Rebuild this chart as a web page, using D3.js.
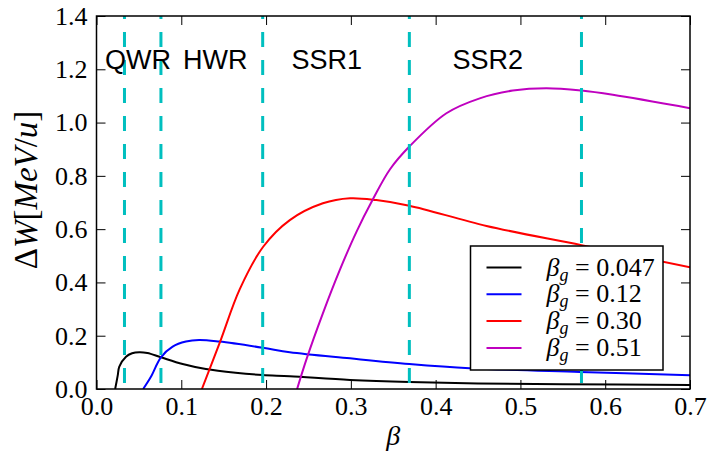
<!DOCTYPE html>
<html>
<head>
<meta charset="utf-8">
<script src="https://cdn.jsdelivr.net/npm/d3@7"></script>
<style>
  body { margin: 0; background: #fff; }
  svg { display: block; }
</style>
</head>
<body>
<svg id="chart"></svg>
<script>
// beta_g = 0.047 (QWR)
var beta047 = [0.022, 0.025, 0.0269, 0.0348, 0.042, 0.0505, 0.06, 0.076, 0.1016, 0.129, 0.164, 0.196, 0.228, 0.299, 0.369, 0.45, 0.55, 0.7];
var dw047   = [0, 0.05, 0.084, 0.121, 0.134, 0.138, 0.135, 0.119, 0.094, 0.075, 0.061, 0.0525, 0.048, 0.034, 0.026, 0.021, 0.018, 0.015];
// beta_g = 0.12 (HWR)
var beta012 = [0.055, 0.0642, 0.076, 0.0898, 0.1055, 0.121, 0.145, 0.196, 0.228, 0.299, 0.369, 0.44, 0.57, 0.7];
var dw012   = [0, 0.046, 0.119, 0.159, 0.178, 0.184, 0.178, 0.155, 0.138, 0.115, 0.094, 0.078, 0.064, 0.052];
// beta_g = 0.30 (SSR1)
var beta030 = [0.1243, 0.1455, 0.169, 0.1966, 0.228, 0.267, 0.299, 0.33, 0.369, 0.46, 0.572, 0.7];
var dw030   = [0, 0.175, 0.375, 0.534, 0.634, 0.697, 0.716, 0.709, 0.688, 0.612, 0.54, 0.457];
// beta_g = 0.51 (SSR2)
var beta051 = [0.2366, 0.248, 0.267, 0.287, 0.3066, 0.326, 0.346, 0.369, 0.4127, 0.452, 0.491, 0.5305, 0.572, 0.609, 0.7];
var dw051   = [0, 0.115, 0.284, 0.447, 0.59, 0.712, 0.824, 0.91, 1.035, 1.091, 1.12, 1.129, 1.12, 1.104, 1.054];

var seriesNames = ["0.047", "0.12", "0.30", "0.51"];
var seriesColors = ["#000000", "#0000ff", "#ff0000", "#bf00bf"];

// transition energies between cavity families
var switchBeta = [0.033, 0.076, 0.196, 0.369, 0.572];
var regionLabels = ["QWR", "HWR", "SSR1", "SSR2"];
var regionX = [0.01, 0.102, 0.23, 0.42];
var regionY = 1.2;

var xTicks = [0, 0.1, 0.2, 0.3, 0.4, 0.5, 0.6, 0.7];
var yTicks = [0, 0.2, 0.4, 0.6, 0.8, 1.0, 1.2, 1.4];

var svgWidth = 708, svgHeight = 453;
var margin = {top: 16, right: 18, bottom: 64, left: 96.5};
var width = svgWidth - margin.left - margin.right;
var height = svgHeight - margin.top - margin.bottom;

var svg = d3.select("#chart")
    .attr("width", svgWidth)
    .attr("height", svgHeight);

var g = svg.append("g")
    .attr("transform", "translate(" + margin.left + "," + margin.top + ")");

var x = d3.scaleLinear().domain([0, 0.7]).range([0, width]);
var y = d3.scaleLinear().domain([0, 1.4]).range([height, 0]);

var serif = "'Liberation Serif', 'Times New Roman', serif";
var sans = "'Liberation Sans', Arial, sans-serif";

g.append("clipPath").attr("id", "clip")
  .append("rect").attr("width", width).attr("height", height);

// curves
var series = [
  {xs: beta047, ys: dw047},
  {xs: beta012, ys: dw012},
  {xs: beta030, ys: dw030},
  {xs: beta051, ys: dw051}
];

var line = d3.line()
    .x(function(d) { return x(d[0]); })
    .y(function(d) { return y(d[1]); })
    .curve(d3.curveCatmullRom.alpha(0.5));

g.append("g").attr("clip-path", "url(#clip)")
  .selectAll("path")
  .data(series)
  .enter().append("path")
    .attr("d", function(s) { return line(d3.zip(s.xs, s.ys)); })
    .attr("fill", "none")
    .attr("stroke", function(s, i) { return seriesColors[i]; })
    .attr("stroke-width", 2);

// dashed separators
g.selectAll(".sep")
  .data(switchBeta)
  .enter().append("line")
    .attr("class", "sep")
    .attr("x1", function(d) { return x(d); })
    .attr("x2", function(d) { return x(d); })
    .attr("y1", 0)
    .attr("y2", height)
    .attr("stroke", "#00bfbf")
    .attr("stroke-width", 3)
    .attr("stroke-dasharray", "15,13")
    .attr("stroke-dashoffset", 12);

// region labels
g.selectAll(".region")
  .data(regionLabels)
  .enter().append("text")
    .attr("class", "region")
    .attr("x", function(d, i) { return x(regionX[i]); })
    .attr("y", y(regionY))
    .attr("font-family", sans)
    .attr("font-size", 27)
    .text(function(d) { return d; });

// axes, ticks inside
function styleAxis(sel) {
  sel.select(".domain").remove();
  sel.selectAll(".tick line").attr("stroke", "#000").attr("stroke-width", 1);
  sel.selectAll("text").attr("font-family", serif).attr("font-size", 26).attr("fill", "#000");
}

g.append("g")
    .attr("transform", "translate(0," + height + ")")
    .call(d3.axisBottom(x).tickValues(xTicks).tickSize(-9).tickPadding(8).tickFormat(d3.format(".1f")))
    .call(styleAxis);

g.append("g")
    .call(d3.axisLeft(y).tickValues(yTicks).tickSize(-9).tickPadding(9).tickFormat(d3.format(".1f")))
    .call(styleAxis);

g.append("g")
    .call(d3.axisTop(x).tickValues(xTicks).tickSize(-9).tickFormat(""))
    .call(styleAxis);

g.append("g")
    .attr("transform", "translate(" + width + ",0)")
    .call(d3.axisRight(y).tickValues(yTicks).tickSize(-9).tickFormat(""))
    .call(styleAxis);

g.append("rect")
    .attr("width", width)
    .attr("height", height)
    .attr("fill", "none")
    .attr("stroke", "#000")
    .attr("stroke-width", 1.5);

// axis titles
svg.append("text")
    .attr("x", margin.left + width / 2)
    .attr("y", 445)
    .attr("text-anchor", "middle")
    .attr("font-family", serif)
    .attr("font-style", "italic")
    .attr("font-size", 28)
    .text("β");

var ylab = svg.append("text")
    .attr("transform", "translate(37,190) rotate(-90)")
    .attr("text-anchor", "middle")
    .attr("font-family", serif)
    .attr("font-size", 33);
ylab.append("tspan").text("Δ");
ylab.append("tspan").attr("font-style", "italic").text("W");
ylab.append("tspan").text("[");
ylab.append("tspan").attr("font-style", "italic").text("MeV");
ylab.append("tspan").text("/");
ylab.append("tspan").attr("font-style", "italic").text("u");
ylab.append("tspan").text("]");

// legend
var legend = svg.append("g")
    .attr("transform", "translate(470.5,246)");

legend.append("rect")
    .attr("width", 192.5)
    .attr("height", 124)
    .attr("fill", "#fff")
    .attr("stroke", "#000")
    .attr("stroke-width", 1.5);

var item = legend.selectAll(".item")
  .data(seriesNames)
  .enter().append("g")
    .attr("class", "item")
    .attr("transform", function(d, i) { return "translate(0," + (21.5 + i * 26.8) + ")"; });

item.append("line")
    .attr("x1", 16).attr("x2", 51)
    .attr("stroke", function(d, i) { return seriesColors[i]; })
    .attr("stroke-width", 2);

var lt = item.append("text")
    .attr("x", 76)
    .attr("y", 8)
    .attr("font-family", serif)
    .attr("font-size", 26);
lt.append("tspan").attr("font-style", "italic").text("β");
lt.append("tspan").attr("font-style", "italic").attr("font-size", 18).attr("dy", 5).text("g");
lt.append("tspan").attr("dy", -5).text(" = ");
lt.append("tspan").text(function(d) { return d; });
</script>
</body>
</html>
